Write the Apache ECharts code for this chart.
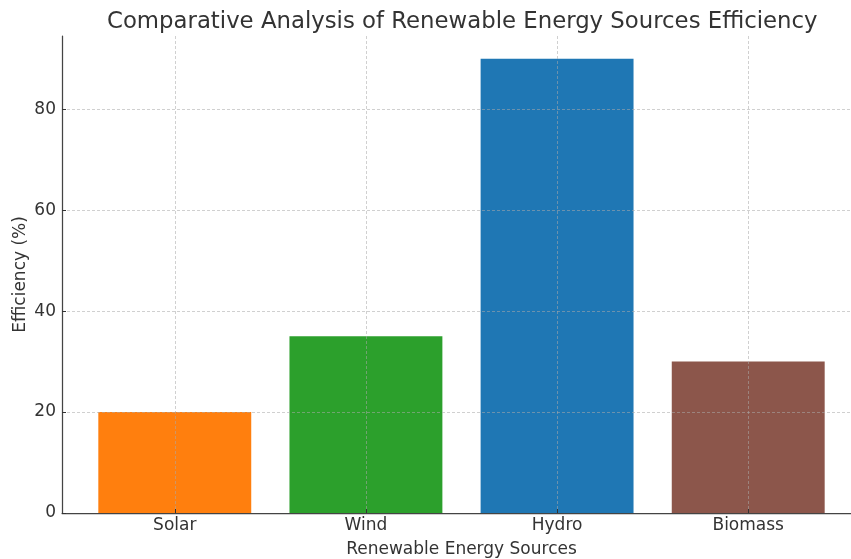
<!DOCTYPE html>
<html>
<head>
<meta charset="utf-8">
<script src="https://cdn.jsdelivr.net/npm/echarts@6/dist/echarts.min.js"></script>
<style>
  html, body { margin: 0; padding: 0; background: #fff; }
  #chart { width: 851px; height: 559px; }
</style>
</head>
<body>
<div id="chart"></div>
<script>
// Efficiency of renewable energy sources
const categories = ['Solar', 'Wind', 'Hydro', 'Biomass'];
const efficiency = [20, 35, 90, 30];
const barColors = ['#ff7f0e', '#2ca02c', '#1f77b4', '#8c564b'];
const yTicks = [0, 20, 40, 60, 80];

const FONT = 'DejaVu Sans';
const TEXT = '#333333';

// Bars sit at integer positions with a width of 0.8; axis padded by 5% of the span
const barSpan = 0.8;
const lo = -barSpan / 2, hi = categories.length - 1 + barSpan / 2;
const pad = (hi - lo) * 0.05;
const xMin = lo - pad, xMax = hi + pad;
const yMax = Math.max(...efficiency) * 1.05;

// Plot area runs slightly past the right edge of the canvas
const plotLeft = 62, plotWidth = 799, plotTop = 36, plotHeight = 477;
const barPx = plotWidth / (xMax - xMin) * barSpan;

const catIdx = categories.map((_, i) => i);
const gridLine = { color: 'rgba(170,170,170,0.55)', type: [3, 2], width: 1 };

const chart = echarts.init(document.getElementById('chart'), null, { renderer: 'canvas' });
chart.setOption({
  animation: false,
  backgroundColor: '#ffffff',
  title: {
    text: 'Comparative Analysis of Renewable Energy Sources Efficiency',
    left: 102, top: 6,
    textStyle: { fontFamily: FONT, fontSize: 22.8, fontWeight: 'normal', color: TEXT }
  },
  grid: {
    left: plotLeft, top: plotTop, width: plotWidth, height: plotHeight,
    containLabel: false, outerBoundsMode: 'none'
  },
  xAxis: {
    type: 'value', min: xMin, max: xMax, z: 5,
    name: 'Renewable Energy Sources', nameLocation: 'middle', nameGap: 28,
    nameMoveOverlap: false,
    nameTextStyle: { fontFamily: FONT, fontSize: 17, color: TEXT },
    axisLine: { onZero: false, lineStyle: { color: '#444', width: 1.25 } },
    axisTick: { show: true, inside: true, length: 4, customValues: catIdx, lineStyle: { color: '#333' } },
    axisLabel: {
      customValues: catIdx, margin: 4,
      fontFamily: FONT, fontSize: 17, color: TEXT,
      formatter: v => categories[Math.round(v)]
    },
    splitLine: { show: true, lineStyle: gridLine }
  },
  yAxis: {
    type: 'value', min: 0, max: yMax, z: 5,
    name: 'Efficiency (%)', nameLocation: 'middle', nameGap: 33, nameRotate: 90,
    nameMoveOverlap: false,
    nameTextStyle: { fontFamily: FONT, fontSize: 17, color: TEXT },
    axisLine: { show: true, onZero: false, lineStyle: { color: '#444', width: 1.25 } },
    axisTick: { show: true, inside: true, length: 4, customValues: yTicks, lineStyle: { color: '#333' } },
    axisLabel: { customValues: yTicks, margin: 6, fontFamily: FONT, fontSize: 17, color: TEXT },
    splitLine: { show: true, lineStyle: gridLine }
  },
  series: [{
    type: 'bar',
    barWidth: barPx,
    data: efficiency.map((v, i) => ({ value: [i, v], itemStyle: { color: barColors[i] } }))
  }]
});
</script>
</body>
</html>
